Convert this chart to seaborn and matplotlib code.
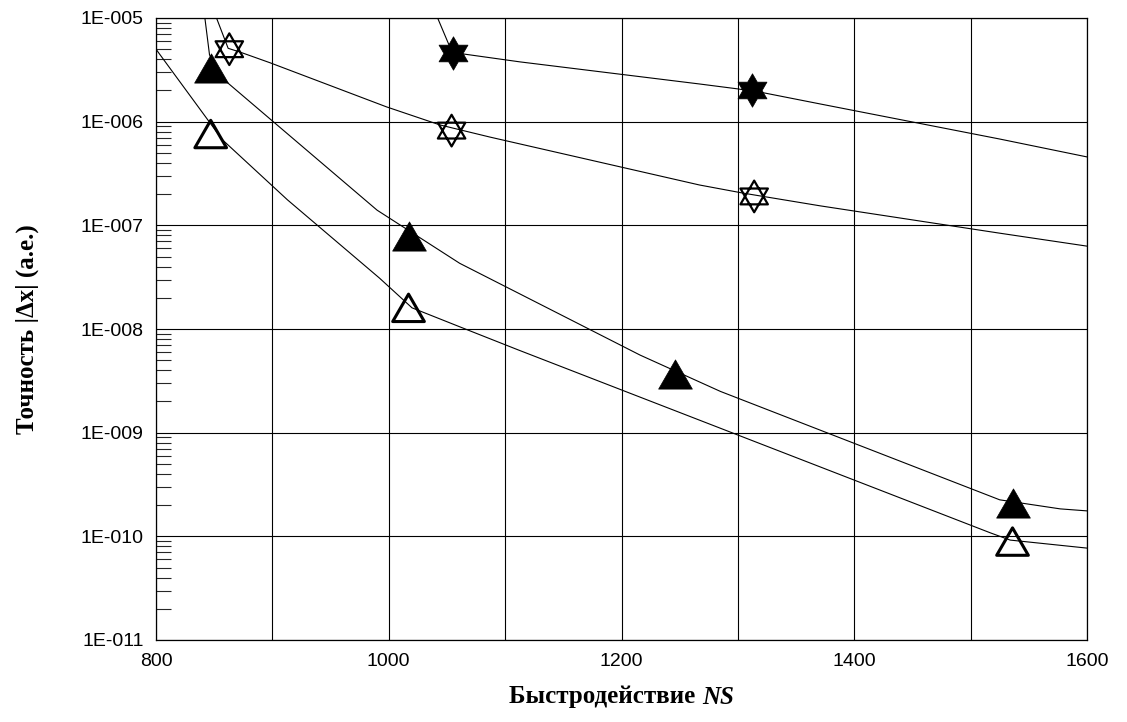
import numpy as np
import seaborn as sns
import matplotlib.pyplot as plt
from matplotlib.path import Path
from matplotlib.ticker import FuncFormatter, LogLocator, MultipleLocator, NullFormatter

# markers
ns_filled_tri = [847, 1017, 1246, 1536]
acc_filled_tri = [3.3e-6, 7.9e-8, 3.7e-9, 2.1e-10]
ns_open_tri = [847, 1017, 1536]
acc_open_tri = [7.6e-7, 1.6e-8, 8.9e-11]
ns_filled_star = [1055, 1312]
acc_filled_star = [4.6e-6, 2.0e-6]
ns_open_star = [863, 1054, 1314]
acc_open_star = [5.0e-6, 8.2e-7, 1.9e-7]

# fitted curves drawn through the markers
curve_a_ns = [842, 846, 861, 990, 1061, 1216, 1285, 1525, 1577, 1600]
curve_a_acc = [1e-5, 4.4e-6, 2.4e-6, 1.4e-7, 4.3e-8, 5.6e-9, 2.5e-9, 2.25e-10, 1.84e-10, 1.76e-10]
curve_b_ns = [800, 857, 913, 992, 1020, 1061, 1111, 1517, 1534, 1600]
curve_b_acc = [5.0e-6, 6.7e-7, 1.76e-7, 3.1e-8, 1.6e-8, 1.05e-8, 6.3e-9, 1.08e-10, 9.2e-11, 7.7e-11]
curve_c_ns = [852, 862, 872, 898, 998, 1044, 1087, 1267, 1304, 1371, 1525, 1600]
curve_c_acc = [1e-5, 5.1e-6, 4.7e-6, 3.7e-6, 1.39e-6, 9.3e-7, 7.1e-7, 2.45e-7, 2.05e-7, 1.54e-7, 8.4e-8, 6.3e-8]
curve_d_ns = [1042, 1053, 1064, 1113, 1267, 1300, 1323, 1371, 1525, 1600]
curve_d_acc = [1e-5, 5.1e-6, 4.5e-6, 3.77e-6, 2.31e-6, 2.07e-6, 1.89e-6, 1.48e-6, 6.8e-7, 4.57e-7]

y_ticks = [1e-11, 1e-10, 1e-9, 1e-8, 1e-7, 1e-6, 1e-5]
x_ticks = [800, 1000, 1200, 1400, 1600]

sns.set_style("white")
plt.rcParams['font.family'] = ['Liberation Sans', 'DejaVu Sans']
plt.rcParams['text.color'] = 'black'

# marker shapes
h = np.sqrt(3) / 2
tri_path = Path([(-1, -h), (1, -h), (0, h), (-1, -h)],
                [Path.MOVETO, Path.LINETO, Path.LINETO, Path.CLOSEPOLY])
star_open_path = Path([(0, 1), (-h, -0.5), (h, -0.5), (0, 1),
                       (0, -1), (h, 0.5), (-h, 0.5), (0, -1)],
                      [Path.MOVETO, Path.LINETO, Path.LINETO, Path.CLOSEPOLY] * 2)
verts = []
for k in range(6):
    a = np.deg2rad(90 + 60 * k)
    verts.append((np.cos(a), np.sin(a)))
    b = np.deg2rad(120 + 60 * k)
    verts.append((np.cos(b) / np.sqrt(3), np.sin(b) / np.sqrt(3)))
verts.append(verts[0])
star_filled_path = Path(verts, [Path.MOVETO] + [Path.LINETO] * 11 + [Path.CLOSEPOLY])

fig = plt.figure(figsize=(11.27, 7.22), dpi=100)
ax = fig.add_axes([156 / 1127, 1 - 640 / 722, (1087 - 156) / 1127, (640 - 18) / 722])

for xs, ys in [(curve_a_ns, curve_a_acc), (curve_b_ns, curve_b_acc),
               (curve_c_ns, curve_c_acc), (curve_d_ns, curve_d_acc)]:
    sns.lineplot(x=xs, y=ys, ax=ax, color='black', lw=0.8, sort=False, estimator=None)

sns.scatterplot(x=ns_filled_tri, y=acc_filled_tri, ax=ax, marker=tri_path, s=590,
                color='black', edgecolor='black', linewidth=0.5, zorder=3)
sns.scatterplot(x=ns_open_tri, y=acc_open_tri, ax=ax, marker=tri_path, s=520,
                color='black', edgecolor='black', linewidth=2.2, zorder=3)
ax.collections[-1].set_facecolor('none')
sns.scatterplot(x=ns_filled_star, y=acc_filled_star, ax=ax, marker=star_filled_path, s=580,
                color='black', edgecolor='black', linewidth=0.5, zorder=3)
sns.scatterplot(x=ns_open_star, y=acc_open_star, ax=ax, marker=star_open_path, s=520,
                color='black', edgecolor='black', linewidth=1.6, zorder=3)
ax.collections[-1].set_facecolor('none')

ax.set_yscale('log')
ax.set_xlim(800, 1600)
ax.set_ylim(1e-11, 1e-5)
ax.set_xticks(x_ticks)
ax.xaxis.set_minor_locator(MultipleLocator(100))
ax.set_yticks(y_ticks)
ax.yaxis.set_minor_locator(LogLocator(base=10, subs=np.arange(2, 10)))
ax.yaxis.set_minor_formatter(NullFormatter())
ax.yaxis.set_major_formatter(FuncFormatter(lambda v, p: "1E-%03d" % round(-np.log10(v))))

ax.grid(True, which='major', color='black', lw=0.8)
ax.grid(True, which='minor', axis='x', color='black', lw=0.8)
ax.tick_params(axis='both', which='major', length=0, labelsize=14, pad=9,
               colors='black', labelcolor='black')
ax.tick_params(axis='x', which='minor', length=0)
ax.tick_params(axis='y', which='minor', direction='in', length=11, width=0.8, left=True, right=False)
for s in ax.spines.values():
    s.set_color('black')
    s.set_linewidth(0.9)

serif = ['Liberation Serif', 'DejaVu Serif']
fig.text(27 / 1127, 1 - 329 / 722, "Точность |Δx| (a.e.)", family=serif, fontweight='bold',
         fontsize=18, rotation=90, ha='center', va='center', color='black')

# x label: regular bold part + bold italic "NS", centred under the axes
t1 = fig.text(0, 1 - 697 / 722, "Быстродействие ", family=serif, fontweight='bold',
              fontsize=18, ha='left', va='center', color='black')
t2 = fig.text(0, 1 - 697 / 722, "NS", family=serif, fontweight='bold', fontstyle='italic',
              fontsize=18, ha='left', va='center', color='black')
fig.canvas.draw()
r = fig.canvas.get_renderer()
w1 = t1.get_window_extent(r).width
w2 = t2.get_window_extent(r).width
start = 621.5 - (w1 + w2) / 2
t1.set_x(start / 1127)
t2.set_x((start + w1) / 1127)

fig.savefig("out.png", dpi=100)
